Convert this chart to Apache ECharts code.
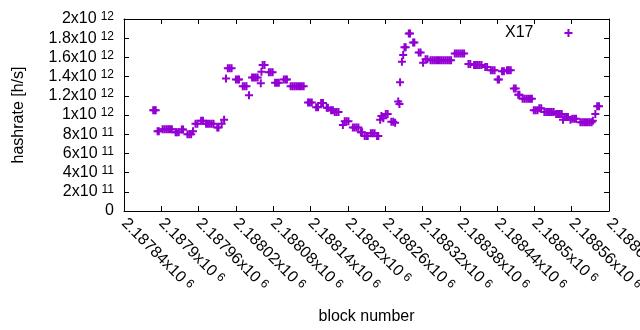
<!DOCTYPE html>
<html>
<head>
<meta charset="utf-8">
<script src="https://cdn.jsdelivr.net/npm/echarts@6/dist/echarts.min.js"></script>
<style>
  html, body { margin: 0; padding: 0; background: #fff; }
  #chart { width: 640px; height: 330px; }
</style>
</head>
<body>
<div id="chart"></div>
<script>
// block numbers and hashrate [h/s]
const blockNums = [
  2187887, 2187889, 2187891, 2187894, 2187896,
  2187902, 2187905, 2187908, 2187911, 2187914, 2187917,
  2187923, 2187925, 2187928, 2187933, 2187935,
  2187942, 2187945, 2187948, 2187951, 2187955, 2187958,
  2187964, 2187967, 2187972, 2187975, 2187978, 2187981, 2187984,
  2187990, 2187992, 2187997, 2188001,
  2188004, 2188007, 2188010, 2188013, 2188020, 2188023, 2188025,
  2188031, 2188034, 2188037, 2188041,
  2188046, 2188049, 2188052, 2188055, 2188060, 2188061,
  2188063, 2188066, 2188073, 2188076, 2188079,
  2188083, 2188086, 2188089, 2188097, 2188100, 2188102,
  2188108, 2188111, 2188114, 2188117, 2188120, 2188123, 2188126, 2188129,
  2188136, 2188139, 2188142, 2188149, 2188152, 2188157, 2188160,
  2188166, 2188168, 2188173, 2188176, 2188179, 2188182, 2188185,
  2188192, 2188195, 2188198, 2188201,
  2188208, 2188211, 2188214, 2188217, 2188221, 2188223,
  2188227, 2188230, 2188232, 2188237, 2188240, 2188243, 2188247, 2188249,
  2188252, 2188254, 2188257, 2188261, 2188264, 2188270, 2188273, 2188276,
  2188281, 2188283, 2188284, 2188287, 2188289, 2188291, 2188293,
  2188298, 2188300, 2188305, 2188307, 2188314, 2188317, 2188321, 2188325, 2188328,
  2188333, 2188336, 2188339, 2188342, 2188345, 2188348, 2188351, 2188354,
  2188357, 2188360, 2188363, 2188366,
  2188372, 2188375, 2188378, 2188381, 2188384, 2188387, 2188394, 2188397,
  2188403, 2188406, 2188409, 2188412, 2188415, 2188421, 2188424,
  2188430, 2188433, 2188436, 2188441, 2188443, 2188448, 2188451,
  2188456, 2188459, 2188462, 2188467, 2188470, 2188474, 2188476,
  2188481, 2188484, 2188487, 2188490, 2188493, 2188496,
  2188499, 2188502, 2188505, 2188508, 2188511,
  2188516, 2188519, 2188522, 2188525, 2188528, 2188531,
  2188535, 2188538, 2188541, 2188544,
  2188546, 2188548, 2188551, 2188554, 2188558, 2188561, 2188564, 2188567,
  2188574, 2188577, 2188580, 2188583, 2188586, 2188589, 2188592,
  2188594, 2188598, 2188601, 2188604
];
const hashrate = [
  1.05e12, 1.05e12, 1.05e12, 0.83e12, 0.83e12,
  0.852e12, 0.852e12, 0.852e12, 0.852e12, 0.852e12, 0.852e12,
  0.82e12, 0.82e12, 0.82e12, 0.85e12, 0.85e12,
  0.80e12, 0.80e12, 0.80e12, 0.83e12, 0.91e12, 0.91e12,
  0.94e12, 0.94e12, 0.91e12, 0.91e12, 0.91e12, 0.91e12, 0.91e12,
  0.87e12, 0.87e12, 0.91e12, 0.95e12,
  1.38e12, 1.486e12, 1.486e12, 1.486e12, 1.37e12, 1.37e12, 1.37e12,
  1.30e12, 1.30e12, 1.30e12, 1.205e12,
  1.39e12, 1.39e12, 1.39e12, 1.39e12, 1.33e12, 1.45e12,
  1.52e12, 1.52e12, 1.445e12, 1.445e12, 1.445e12,
  1.335e12, 1.335e12, 1.335e12, 1.37e12, 1.37e12, 1.37e12,
  1.30e12, 1.30e12, 1.30e12, 1.30e12, 1.30e12, 1.30e12, 1.30e12, 1.30e12,
  1.13e12, 1.13e12, 1.13e12, 1.08e12, 1.08e12, 1.125e12, 1.125e12,
  1.075e12, 1.075e12, 1.05e12, 1.05e12, 1.03e12, 1.03e12, 1.03e12,
  0.896e12, 0.935e12, 0.935e12, 0.935e12,
  0.87e12, 0.87e12, 0.87e12, 0.87e12, 0.82e12, 0.82e12,
  0.78e12, 0.78e12, 0.78e12, 0.81e12, 0.81e12, 0.81e12, 0.78e12, 0.78e12,
  0.95e12, 0.99e12, 0.965e12, 1.01e12, 1.01e12, 0.93e12, 0.93e12, 0.92e12,
  1.14e12, 1.115e12, 1.34e12, 1.555e12, 1.625e12, 1.705e12, 1.705e12,
  1.85e12, 1.85e12, 1.756e12, 1.756e12, 1.65e12, 1.65e12, 1.545e12, 1.58e12, 1.58e12,
  1.57e12, 1.57e12, 1.57e12, 1.57e12, 1.57e12, 1.57e12, 1.57e12, 1.57e12,
  1.57e12, 1.57e12, 1.57e12, 1.57e12,
  1.64e12, 1.64e12, 1.64e12, 1.64e12, 1.64e12, 1.64e12, 1.53e12, 1.53e12,
  1.52e12, 1.52e12, 1.52e12, 1.52e12, 1.52e12, 1.50e12, 1.50e12,
  1.465e12, 1.465e12, 1.465e12, 1.37e12, 1.37e12, 1.455e12, 1.455e12,
  1.465e12, 1.465e12, 1.465e12, 1.275e12, 1.275e12, 1.21e12, 1.21e12,
  1.17e12, 1.17e12, 1.17e12, 1.17e12, 1.17e12, 1.17e12,
  1.05e12, 1.05e12, 1.05e12, 1.07e12, 1.07e12,
  1.03e12, 1.03e12, 1.03e12, 1.03e12, 1.03e12, 1.03e12,
  1.01e12, 1.01e12, 1.01e12, 1.01e12,
  0.95e12, 0.98e12, 0.98e12, 0.98e12, 0.95e12, 0.96e12, 0.96e12, 0.96e12,
  0.925e12, 0.925e12, 0.925e12, 0.925e12, 0.925e12, 0.925e12, 0.925e12,
  0.94e12, 1.01e12, 1.09e12, 1.09e12
];
const seriesName = "X17";
const xMin = 2187840, xMax = 2188620, xStep = 60;
const yMin = 0, yMax = 2e12, yStep = 2e11;

const font = "Liberation Sans";
const color = "#9400d3";
// gnuplot style "+" point
const plusPath = "path://M0,3H3V0H5V3H8V5H5V8H3V5H0Z";

// "2x10^12" style labels, like gnuplot
function sciLabel(v) {
  if (v === 0) return "0";
  let exp = Math.floor(Math.log10(v) + 1e-9);
  let mant = parseFloat((v / Math.pow(10, exp)).toFixed(6));
  return mant + "x10{sup|" + exp + "}";
}
const rich = {
  sup: { fontSize: 12, fontFamily: font, color: "#000", padding: [0, 0, 0, 4], verticalAlign: "top", lineHeight: 12 }
};

const chart = echarts.init(document.getElementById("chart"), null, { renderer: "canvas" });

const points = blockNums.map((b, i) => [b, hashrate[i]]);

const axisLine = { show: true, onZero: false, lineStyle: { color: "#000", width: 1 } };
const axisTick = { show: true, inside: true, length: 5, lineStyle: { color: "#000" } };

const option = {
  backgroundColor: "#fff",
  animation: false,
  textStyle: { fontFamily: font },
  grid: { left: 124, right: 31, top: 19, bottom: 119, containLabel: false, outerBoundsMode: "none" },
  legend: {
    data: [{ name: seriesName, icon: plusPath }],
    left: 500, top: 20,
    align: "right",
    itemWidth: 60, itemHeight: 8,
    textStyle: { fontFamily: font, fontSize: 16, color: "#000" }
  },
  xAxis: [
    {
      type: "value", min: xMin, max: xMax, interval: xStep,
      name: "block number", nameLocation: "middle", nameGap: 98,
      nameTextStyle: { fontFamily: font, fontSize: 16, color: "#000" },
      axisLine: axisLine, axisTick: axisTick,
      splitLine: { show: false },
      axisLabel: {
        rotate: -45, margin: 10, fontSize: 16, color: "#000", fontFamily: font,
        showMinLabel: true, showMaxLabel: true, hideOverlap: false,
        formatter: (v) => sciLabel(v), rich: rich
      }
    },
    {
      type: "value", position: "top", min: xMin, max: xMax, interval: xStep,
      axisLine: axisLine, axisTick: axisTick,
      axisLabel: { show: false }, splitLine: { show: false }
    }
  ],
  yAxis: [
    {
      type: "value", min: yMin, max: yMax, interval: yStep,
      name: "hashrate [h/s]", nameLocation: "middle", nameGap: 97,
      nameTextStyle: { fontFamily: font, fontSize: 16, color: "#000" },
      axisLine: axisLine, axisTick: axisTick,
      splitLine: { show: false },
      axisLabel: {
        margin: 10, fontSize: 16, color: "#000", fontFamily: font,
        showMinLabel: true, showMaxLabel: true,
        formatter: (v) => sciLabel(v), rich: rich
      }
    },
    {
      type: "value", position: "right", min: yMin, max: yMax, interval: yStep,
      axisLine: axisLine, axisTick: axisTick,
      axisLabel: { show: false }, splitLine: { show: false }
    }
  ],
  series: [
    {
      name: seriesName,
      type: "scatter",
      data: points,
      symbol: plusPath,
      symbolSize: 8,
      itemStyle: { color: color, opacity: 1 },
      emphasis: { disabled: true }
    }
  ]
};
chart.setOption(option);
</script>
</body>
</html>
